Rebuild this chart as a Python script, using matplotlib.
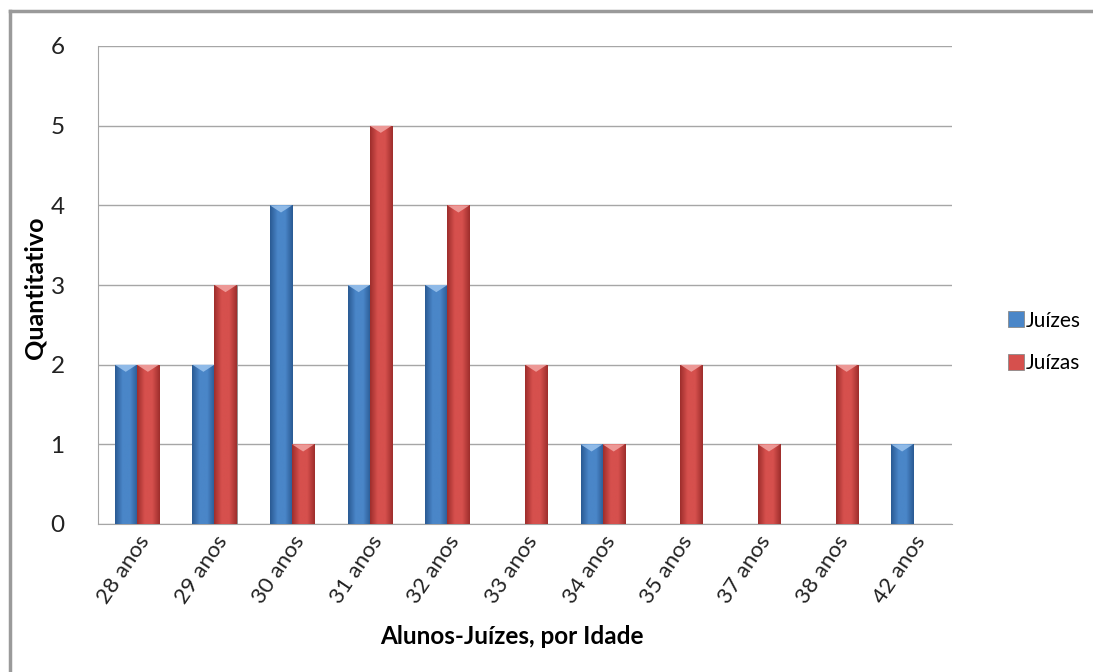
import matplotlib
matplotlib.use("Agg")
import matplotlib.pyplot as plt
import numpy as np
from matplotlib.patches import Polygon
from matplotlib.colors import LinearSegmentedColormap
from matplotlib.lines import Line2D

categories = ["28 anos", "29 anos", "30 anos", "31 anos", "32 anos", "33 anos",
              "34 anos", "35 anos", "37 anos", "38 anos", "42 anos"]
juizes = [2, 2, 4, 3, 3, 0, 1, 0, 0, 0, 1]
juizas = [2, 3, 1, 5, 4, 2, 1, 2, 1, 2, 0]
series_names = ["Juízes", "Juízas"]

plt.rcParams['font.family'] = ['Lato', 'DejaVu Sans']

fig = plt.figure(figsize=(10.93, 6.72), dpi=100)
ax = fig.add_axes([98/1093, 1-524/672, (952-98)/1093, (524-46)/672])

x = np.arange(len(categories))
w = 0.285

styles = [
    dict(dark="#2a5a93", mid="#4a86c8", light="#9cc4ee"),
    dict(dark="#9e2e2c", mid="#d6504d", light="#f2a6a4"),
]

def draw_bars(xs, vals, st, zorder=3):
    cmap = LinearSegmentedColormap.from_list("c", [st["dark"], st["mid"], st["mid"], st["dark"]])
    grad = np.linspace(0, 1, 64).reshape(1, -1)
    bars = ax.bar(xs, vals, width=w, color=st["mid"], edgecolor="#8a8a8a",
                  linewidth=0.6, zorder=zorder)
    for b, v in zip(bars, vals):
        if v <= 0:
            continue
        x0, y0 = b.get_x(), b.get_y()
        bw, bh = b.get_width(), b.get_height()
        im = ax.imshow(grad, cmap=cmap, aspect="auto",
                       extent=[x0, x0 + bw, y0, y0 + bh], zorder=zorder + 0.1)
        im.set_clip_path(b)
        th = 0.09
        tri = Polygon([[x0, y0 + bh], [x0 + bw, y0 + bh], [x0 + bw/2, y0 + bh - th]],
                      closed=True, facecolor=st["light"], edgecolor="none",
                      alpha=0.85, zorder=zorder + 0.2)
        ax.add_patch(tri)
    return bars

draw_bars(x - w/2, juizes, styles[0])
draw_bars(x + w/2, juizas, styles[1])

ax.set_xlim(-0.5, len(categories) - 0.5)
ax.set_ylim(0, 6)
ax.set_yticks(range(0, 7))
ax.yaxis.grid(True, color="#a6a6a6", linewidth=1.0, zorder=0)
ax.set_axisbelow(True)
for s in ["top", "right"]:
    ax.spines[s].set_visible(False)
ax.spines["left"].set_color("#a6a6a6")
ax.spines["bottom"].set_color("#a6a6a6")
ax.tick_params(axis="y", length=0, labelsize=17.5, pad=24, colors="#222222")
ax.tick_params(axis="x", length=0, labelsize=16, pad=6, colors="#222222")
ax.set_xticks(x)
ax.set_xticklabels(categories, rotation=56, ha="right", rotation_mode="anchor")

ax.set_ylabel("Quantitativo", fontsize=18, fontweight="bold")
ax.yaxis.set_label_coords(-0.060, 0.495)
fig.text(512/1093, 1-636/672, "Alunos-Juízes, por Idade", fontsize=17.5,
         fontweight="bold", ha="center", va="center")

handles = [Line2D([], [], marker="s", linestyle="none", markersize=12,
                  markerfacecolor=styles[i]["mid"], markeredgecolor="#8a8a8a",
                  markeredgewidth=0.6) for i in range(2)]
fig.legend(handles, series_names, loc="center left",
           bbox_to_anchor=(995/1093, 1-342/672), frameon=False, fontsize=15,
           handletextpad=0.0, labelspacing=1.1, handlelength=1.0, borderpad=0)

# outer frame (left and top edges)
fig.add_artist(Line2D([10/1093, 10/1093], [0, 1-11/672], transform=fig.transFigure,
                      color="#9a9a9a", linewidth=2.5))
fig.add_artist(Line2D([10/1093, 1], [1-11/672, 1-11/672], transform=fig.transFigure,
                      color="#9a9a9a", linewidth=2.5))

fig.savefig("out.png", dpi=100)
